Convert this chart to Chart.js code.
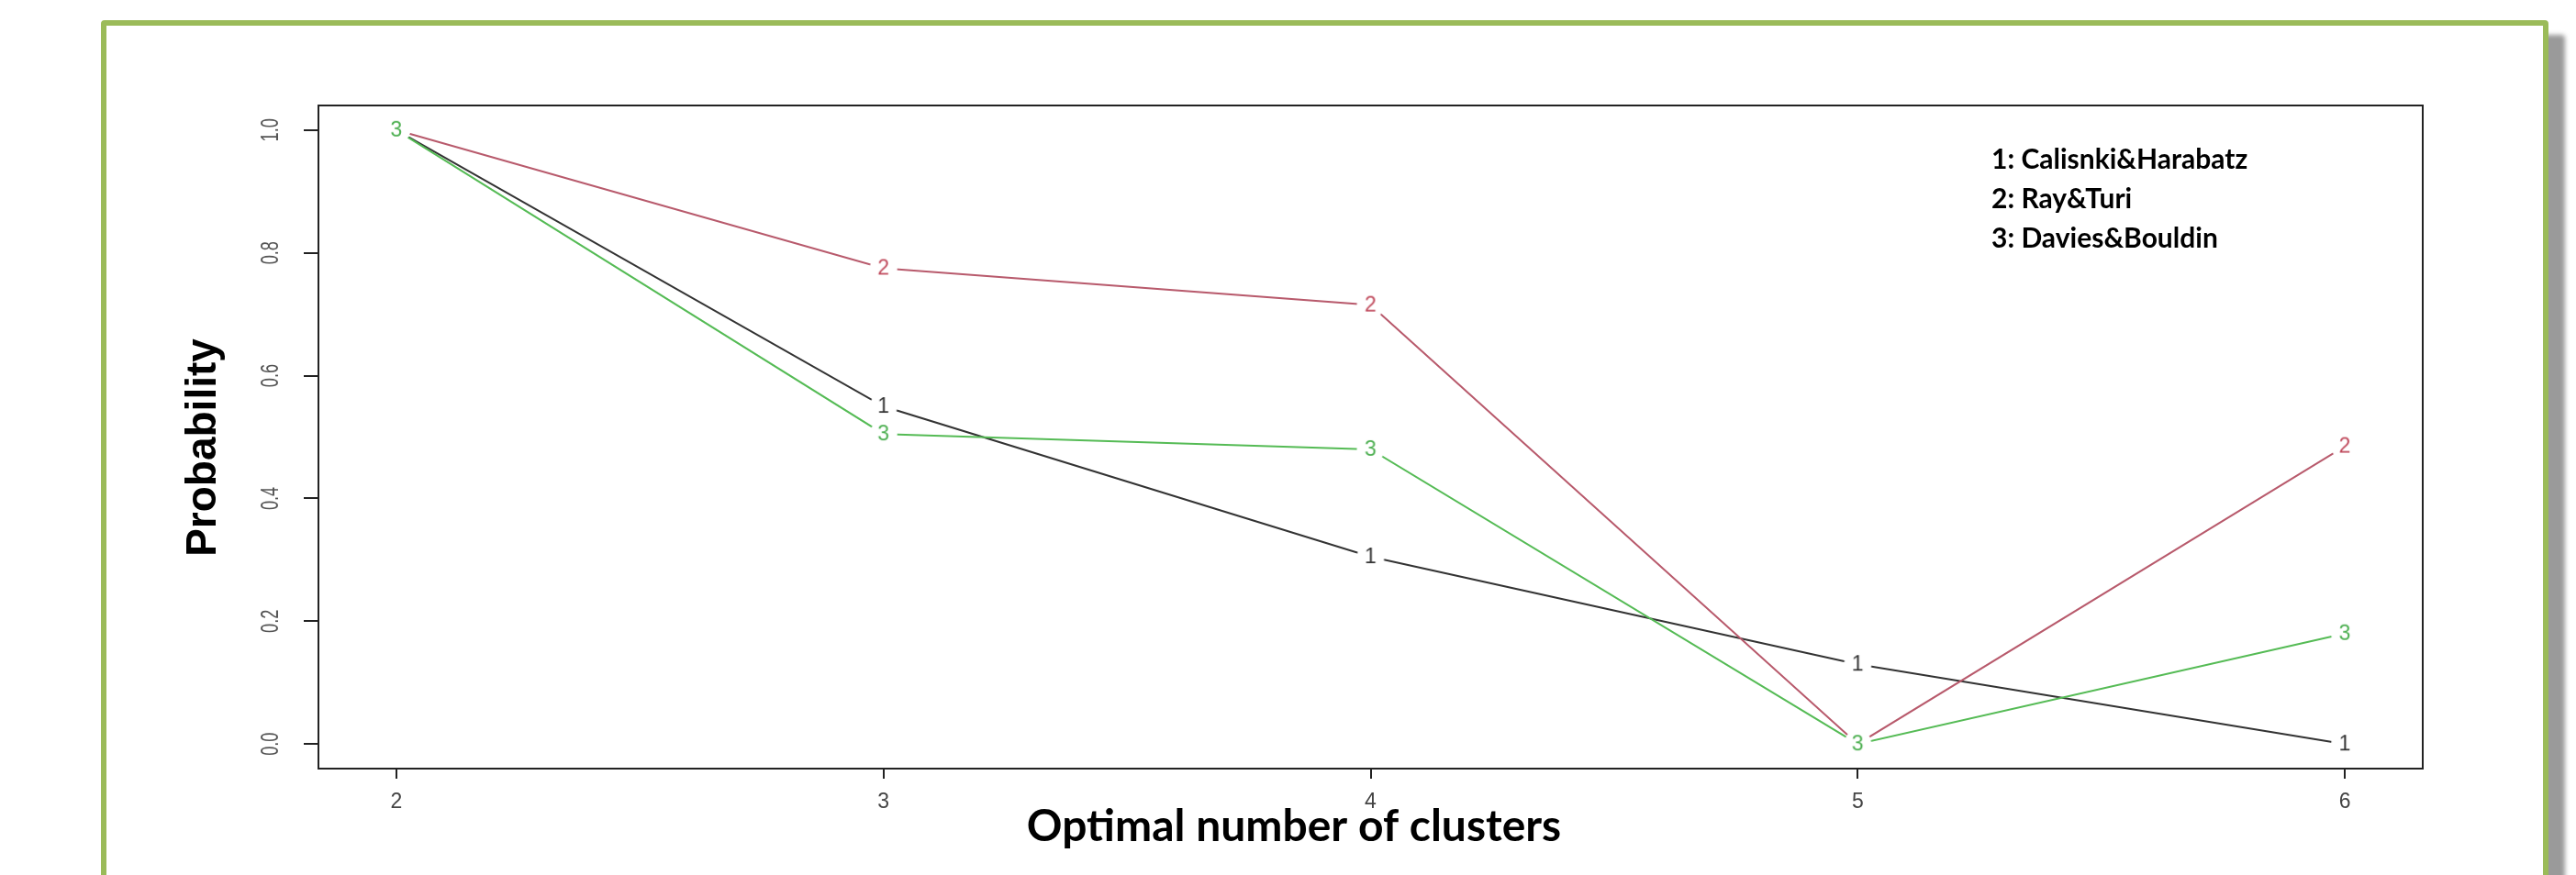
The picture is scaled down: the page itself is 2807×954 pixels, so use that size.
<!DOCTYPE html>
<html>
<head>
<meta charset="utf-8">
<script src="https://cdn.jsdelivr.net/npm/chart.js@4.4.1/dist/chart.umd.min.js"></script>
<style>
  html, body { margin: 0; padding: 0; background: #fff; overflow: hidden; }
  #frame {
    position: absolute; left: 110px; top: 22px; width: 2655px; height: 1000px;
    border: 6px solid #9bbb59; border-radius: 4px; background: #fff;
    box-shadow: 18px 16px 5px #9a9a9a;
  }
  #wrap { position: absolute; left: 0; top: 0; width: 2807px; height: 954px; }
</style>
</head>
<body>
<div id="frame"></div>
<div id="wrap"><canvas id="chart" width="2807" height="954"></canvas></div>
<script>
const clusters = [2, 3, 4, 5, 6];
const calinski = [1.0, 0.55, 0.305, 0.13, 0.0];
const rayTuri = [1.0, 0.775, 0.715, 0.0, 0.485];
const daviesBouldin = [1.0, 0.505, 0.48, 0.0, 0.18];
const seriesNames = ["Calisnki&Harabatz", "Ray&Turi", "Davies&Bouldin"];
const seriesMarks = ["1", "2", "3"];
const xTicks = [2, 3, 4, 5, 6];
const yTicks = [0, 0.2, 0.4, 0.6, 0.8, 1.0];
const xTitle = "Optimal number of clusters";
const yTitle = "Probability";

// R style "type = b" markers: a digit with a little white gap round it
function markCanvas(ch, color) {
  const c = document.createElement("canvas");
  c.width = 36; c.height = 36;
  const g = c.getContext("2d");
  g.fillStyle = "#fff";
  g.beginPath(); g.arc(18, 18, 15, 0, Math.PI * 2); g.fill();
  g.fillStyle = color;
  g.font = '23px "Liberation Sans"';
  g.textAlign = "center";
  g.textBaseline = "middle";
  g.fillText(ch, 18, 19);
  return c;
}

function points(values) {
  return clusters.map((x, i) => ({ x: x, y: values[i] }));
}

const colors = ["#333333", "#b85a6c", "#55bb55"];
const markColors = ["#333333", "#c04a5c", "#4caf50"];

/* ===== PLUGINS ===== */
const plotBox = {
  id: "plotBox",
  afterDatasetsDraw(chart) {
    const a = chart.chartArea, ctx = chart.ctx;
    ctx.save();
    ctx.strokeStyle = "#222";
    ctx.lineWidth = 2;
    ctx.strokeRect(a.left, a.top, a.right - a.left, a.bottom - a.top);
    ctx.restore();
  }
};

const axisText = {
  id: "axisText",
  afterDraw(chart) {
    const s = chart.scales.y, ctx = chart.ctx;
    ctx.save();
    // rotated y tick labels, squeezed like the R export
    ctx.fillStyle = "#555";
    ctx.font = '28px "Liberation Sans"';
    ctx.textAlign = "center";
    ctx.textBaseline = "middle";
    yTicks.forEach(v => {
      ctx.save();
      ctx.translate(295, s.getPixelForValue(v));
      ctx.rotate(-Math.PI / 2);
      ctx.scale(0.65, 1);
      ctx.fillText(v.toFixed(1), 0, 0);
      ctx.restore();
    });
    // axis titles
    ctx.fillStyle = "#000";
    ctx.font = 'bold 48px Lato';
    ctx.fillText(xTitle, 1410, 902);
    ctx.save();
    ctx.translate(222, 488);
    ctx.rotate(-Math.PI / 2);
    ctx.font = 'bold 46px "Liberation Sans"';
    ctx.fillText(yTitle, 0, 0);
    ctx.restore();
    ctx.restore();
  }
};

const textLegend = {
  id: "textLegend",
  afterDraw(chart) {
    const ctx = chart.ctx;
    ctx.save();
    ctx.fillStyle = "#000";
    ctx.font = 'bold 30px Lato';
    ctx.textAlign = "left";
    ctx.textBaseline = "middle";
    seriesNames.forEach((name, i) => {
      ctx.fillText(seriesMarks[i] + ": " + name, 2170, 174 + i * 43);
    });
    ctx.restore();
  }
};

new Chart(document.getElementById("chart"), {
  type: "line",
  data: {
    datasets: [
      { label: seriesNames[0], data: points(calinski), order: 3 },
      { label: seriesNames[1], data: points(rayTuri), order: 2 },
      { label: seriesNames[2], data: points(daviesBouldin), order: 1 }
    ].map((d, i) => Object.assign(d, {
      borderColor: colors[i],
      borderWidth: 2,
      tension: 0,
      fill: false,
      pointStyle: markCanvas(seriesMarks[i], markColors[i]),
      pointRadius: 10
    }))
  },
  options: {
    responsive: false,
    devicePixelRatio: 1,
    animation: false,
    layout: { padding: { left: 0, top: 115, right: 167, bottom: 0 } },
    plugins: { legend: { display: false }, tooltip: { enabled: false } },
    scales: {
      x: {
        type: "linear",
        min: 1.84,
        max: 6.16,
        afterBuildTicks: s => { s.ticks = xTicks.map(v => ({ value: v })); },
        afterFit: s => { s.height = 116; },
        ticks: {
          color: "#444",
          font: { family: "Liberation Sans", size: 23 },
          padding: 12,
          maxRotation: 0,
          callback: v => String(v)
        },
        grid: { drawOnChartArea: false, drawTicks: true, tickLength: 11, color: "#222", lineWidth: 2 },
        border: { display: false }
      },
      y: {
        min: -0.04,
        max: 1.04,
        afterBuildTicks: s => { s.ticks = yTicks.map(v => ({ value: v })); },
        afterFit: s => { s.width = 347; },
        ticks: { display: false },
        grid: { drawOnChartArea: false, drawTicks: true, tickLength: 16, color: "#222", lineWidth: 2 },
        border: { display: false }
      }
    }
  },
  plugins: [plotBox, axisText, textLegend]
});
</script>
</body>
</html>
